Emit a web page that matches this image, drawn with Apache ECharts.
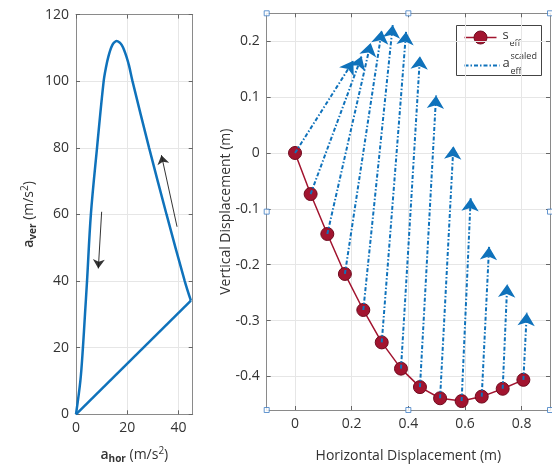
<!DOCTYPE html>
<html>
<head>
<meta charset="utf-8">
<script src="https://cdn.jsdelivr.net/npm/echarts@6/dist/echarts.min.js"></script>
<style>
  html, body { margin: 0; padding: 0; background: #fff; }
  #chart { width: 552px; height: 470px; }
</style>
</head>
<body>
<div id="chart"></div>
<script>
// ---- Left panel: effective acceleration loop, a_hor vs a_ver (m/s^2) ----
const accLoopStraight = [[0, 0], [44.8, 34.1]];
const accLoopCurve = [
  [44.8, 34.1], [42.4, 40], [35.3, 60], [28.5, 80], [22.0, 100.1],
  [20.7, 104.6], [19.7, 107.3], [18.75, 109.4], [17.8, 110.9], [17.0, 111.65],
  [15.8, 112.1],
  [14.9, 111.65], [14.2, 110.9], [13.4, 109.4], [12.6, 107.3], [11.8, 104.6],
  [10.8, 100.1], [8.2, 80], [5.8, 60], [4.3, 40], [3.5, 30],
  [2.7, 20], [1.7, 10], [0, 0]
];
// direction-of-travel arrows: [tail, head]
const accDirArrows = [
  [[10.0, 60.8], [8.7, 43.8]],
  [[39.4, 56.3], [33.3, 77.8]]
];
const accXTicks = [0, 20, 40];
const accYTicks = [0, 20, 40, 60, 80, 100, 120];
const accXRange = [0, 45.5];
const accYRange = [0, 120];

// ---- Right panel: effective displacement path and scaled acceleration ----
const sHor = [0, 0.055, 0.114, 0.176, 0.241, 0.306, 0.374, 0.441, 0.512, 0.588, 0.659, 0.733, 0.806];
const sVer = [0, -0.0735, -0.145, -0.2165, -0.281, -0.339, -0.386, -0.419, -0.439, -0.444, -0.436, -0.422, -0.406];
const aTipHor = [0.206, 0.235, 0.267, 0.306, 0.345, 0.392, 0.441, 0.498, 0.559, 0.620, 0.685, 0.749, 0.818];
const aTipVer = [0.165, 0.173, 0.197, 0.219, 0.229, 0.217, 0.173, 0.103, 0.012, -0.081, -0.168, -0.235, -0.286];
const dispXTicks = [0, 0.2, 0.4, 0.6, 0.8];
const dispYTicks = [-0.4, -0.3, -0.2, -0.1, 0, 0.1, 0.2];
const dispXRange = [-0.1, 0.9];
const dispYRange = [-0.46, 0.25];

const FONT = 'Open Sans';
const TEXT = '#333333';
const FRAME = '#8a8a8a';
const GRIDLINE = '#e6e6e6';
const BLUE = '#0f72bb';
const RED = '#A2142F';

const richName = {
  m: { fontFamily: FONT, fontSize: 14, fontWeight: 600, color: TEXT, lineHeight: 18 },
  u: { fontFamily: FONT, fontSize: 14, color: TEXT, lineHeight: 18 },
  sub: { fontFamily: FONT, fontSize: 10, fontWeight: 700, color: TEXT, lineHeight: 10, verticalAlign: 'bottom' },
  sup: { fontFamily: FONT, fontSize: 10, color: TEXT, lineHeight: 10, verticalAlign: 'top' }
};

function frameAxis(gridIndex, position, range, ticks, withLabels, extra) {
  return Object.assign({
    type: 'value',
    gridIndex: gridIndex,
    position: position,
    min: range[0],
    max: range[1],
    nameMoveOverlap: false,
    axisLine: { show: true, onZero: false, lineStyle: { color: FRAME, width: 1 } },
    axisTick: { show: true, inside: true, length: 4, customValues: ticks, lineStyle: { color: '#666' } },
    axisLabel: withLabels
      ? { show: true, customValues: ticks, color: TEXT, fontFamily: FONT, fontSize: 14, margin: 7 }
      : { show: false },
    splitLine: withLabels
      ? { show: true, lineStyle: { color: GRIDLINE, width: 1 } }
      : { show: false }
  }, extra || {});
}

const chart = echarts.init(document.getElementById('chart'), null, { renderer: 'canvas' });

const arrowData = sHor.map((x, i) => ({ coords: [[x, sVer[i]], [aTipHor[i], aTipVer[i]]] }));
const sPath = sHor.map((x, i) => [x, sVer[i]]);
const xMid = (dispXRange[0] + dispXRange[1]) / 2;
const yMid = (dispYRange[0] + dispYRange[1]) / 2;
const handles = [
  [dispXRange[0], dispYRange[1]], [xMid, dispYRange[1]], [dispXRange[1], dispYRange[1]],
  [dispXRange[0], yMid], [dispXRange[1], yMid],
  [dispXRange[0], dispYRange[0]], [xMid, dispYRange[0]], [dispXRange[1], dispYRange[0]]
];

chart.setOption({
  animation: false,
  backgroundColor: '#ffffff',
  grid: [
    { left: 76, top: 14.6, width: 116.7, height: 399.7 },
    { left: 266.7, top: 13.3, width: 283.3, height: 402.3 }
  ],
  xAxis: [
    frameAxis(0, 'bottom', accXRange, accXTicks, true, {
      name: '{m|a}{sub|hor}{u| (m/s}{sup|2}{u|)}',
      nameLocation: 'middle', nameGap: 32,
      nameTextStyle: { rich: richName }
    }),
    frameAxis(0, 'top', accXRange, accXTicks, false),
    frameAxis(1, 'bottom', dispXRange, dispXTicks, true, {
      name: 'Horizontal Displacement (m)',
      nameLocation: 'middle', nameGap: 37,
      nameTextStyle: { fontFamily: FONT, fontSize: 14, color: TEXT, lineHeight: 18 }
    }),
    frameAxis(1, 'top', dispXRange, dispXTicks, false)
  ],
  yAxis: [
    frameAxis(0, 'left', accYRange, accYTicks, true, {
      name: '{m|a}{sub|ver}{u| (m/s}{sup|2}{u|)}',
      nameLocation: 'middle', nameGap: 38, nameRotate: 90,
      nameTextStyle: { rich: richName }
    }),
    frameAxis(0, 'right', accYRange, accYTicks, false),
    frameAxis(1, 'left', dispYRange, dispYTicks, true, {
      name: 'Vertical Displacement (m)',
      nameLocation: 'middle', nameGap: 32, nameRotate: 90,
      nameTextStyle: { fontFamily: FONT, fontSize: 14, color: TEXT, lineHeight: 18 }
    }),
    frameAxis(1, 'right', dispYRange, dispYTicks, false)
  ],
  series: [
    {
      type: 'line', xAxisIndex: 0, yAxisIndex: 0, data: accLoopStraight,
      showSymbol: false, silent: true,
      lineStyle: { color: BLUE, width: 2.5 }
    },
    {
      type: 'line', xAxisIndex: 0, yAxisIndex: 0, data: accLoopCurve,
      showSymbol: false, silent: true, smooth: 0.35,
      lineStyle: { color: BLUE, width: 2.5 }
    },
    {
      type: 'lines', coordinateSystem: 'cartesian2d', xAxisIndex: 0, yAxisIndex: 0,
      data: accDirArrows.map(a => ({ coords: a })),
      symbol: ['none', 'arrow'], symbolSize: 9, symbolOffset: [0, [0, 4]], silent: true, z: 4,
      lineStyle: { color: '#1e1e1e', width: 1, opacity: 0.9 }
    },
    {
      name: 's_eff', type: 'line', xAxisIndex: 2, yAxisIndex: 2, data: sPath,
      symbol: 'circle', symbolSize: 13, silent: true, z: 3,
      lineStyle: { color: RED, width: 1.5 },
      itemStyle: { color: RED, borderColor: '#6f0b1f', borderWidth: 1 }
    },
    {
      name: 'a_eff_scaled', type: 'lines', coordinateSystem: 'cartesian2d', xAxisIndex: 2, yAxisIndex: 2,
      data: arrowData, symbol: ['none', 'arrow'], symbolSize: 13, symbolOffset: [0, [0, 6]],
      silent: true, z: 5,
      lineStyle: { color: BLUE, width: 2, type: [4, 2, 1.5, 2], opacity: 1 }
    },
    {
      type: 'scatter', xAxisIndex: 2, yAxisIndex: 2, data: handles,
      symbol: 'rect', symbolSize: 5, silent: true, z: 10, clip: false,
      itemStyle: { color: '#ffffff', borderColor: '#3f7dc4', borderWidth: 1 }
    }
  ],
  graphic: [
    {
      type: 'group', left: 456, top: 25, z: 100,
      children: [
        { type: 'rect', shape: { x: 0, y: 0, width: 85, height: 50 },
          style: { fill: '#ffffff', stroke: '#444', lineWidth: 1 } },
        { type: 'line', shape: { x1: 8, y1: 12, x2: 40, y2: 12 },
          style: { stroke: RED, lineWidth: 1.5 } },
        { type: 'circle', shape: { cx: 24, cy: 12, r: 6.5 },
          style: { fill: RED, stroke: '#6f0b1f', lineWidth: 1 } },
        { type: 'text', x: 46, y: 10,
          style: { text: 's', fontFamily: FONT, fontSize: 13, fill: TEXT, verticalAlign: 'middle' } },
        { type: 'text', x: 53, y: 18,
          style: { text: 'eff', fontFamily: FONT, fontSize: 9, fill: TEXT, verticalAlign: 'middle' } },
        { type: 'line', shape: { x1: 8, y1: 40, x2: 43, y2: 40 },
          style: { stroke: BLUE, lineWidth: 2, lineDash: [4, 2, 1.5, 2] } },
        { type: 'text', x: 46, y: 38,
          style: { text: 'a', fontFamily: FONT, fontSize: 13, fill: TEXT, verticalAlign: 'middle' } },
        { type: 'text', x: 54, y: 31,
          style: { text: 'scaled', fontFamily: FONT, fontSize: 9, fill: TEXT, verticalAlign: 'middle' } },
        { type: 'text', x: 54, y: 46,
          style: { text: 'eff', fontFamily: FONT, fontSize: 9, fill: TEXT, verticalAlign: 'middle' } }
      ]
    }
  ]
});
</script>
</body>
</html>
